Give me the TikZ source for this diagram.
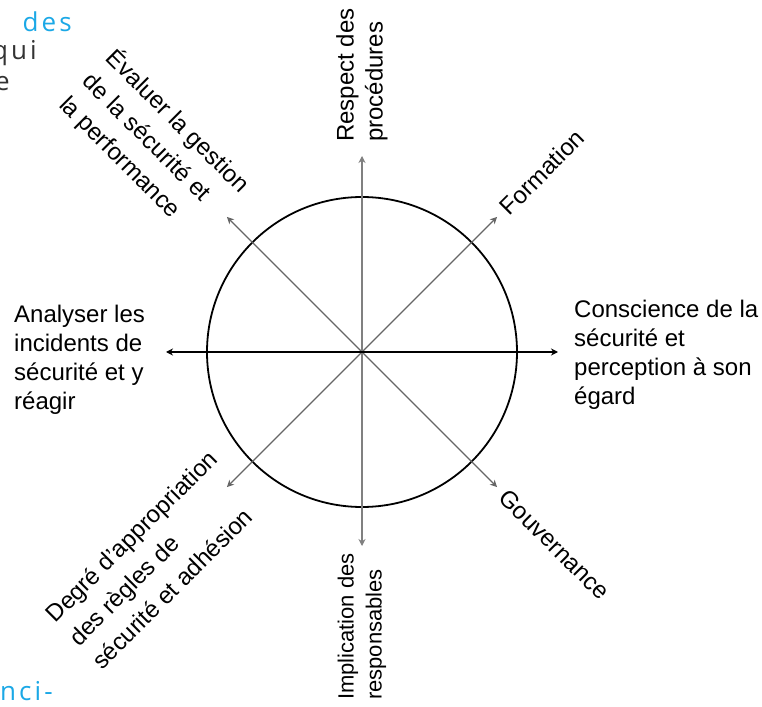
\documentclass[tikz,border=0pt]{standalone}
\usepackage{fontspec}
\setmainfont{Liberation Sans}
\newfontfamily\pagefont[LetterSpace=12]{Open Sans}
\usepackage{tikz}
\usetikzlibrary{arrows.meta}
\definecolor{pageblue}{RGB}{27,168,230}

\begin{document}
\begin{tikzpicture}[x=1pt,y=1pt,
  lab/.style={inner sep=0pt,font=\fontsize{24}{29}\selectfont,align=left},
  slant/.style={lab,font=\fontsize{24}{33}\selectfont},
  frag/.style={inner sep=0pt,font=\pagefont\fontsize{26}{30}\selectfont},
  tip/.style={-{Stealth[length=7pt,width=7pt]}}]
  \useasboundingbox (-362,-354) rectangle (400,352);
  \coordinate (O) at (0,0);
  \coordinate (N) at (0,196);
  \coordinate (S) at (0,-194);
  \coordinate (E) at (196,0);
  \coordinate (W) at (-196,0);
  % circle and axes
  \draw[line width=1.8pt] (O) circle[radius=155];
  \foreach \a in {45,135,225,315}
    \draw[tip,black!60,line width=1.4pt] (O) -- (\a:191);
  \draw[{Stealth[length=7pt,width=7pt]}-{Stealth[length=7pt,width=7pt]},black!50,line width=2.6pt] (S) -- (N);
  \draw[{Stealth[length=7pt,width=7pt]}-{Stealth[length=7pt,width=7pt]},line width=2.6pt] (W) -- (E);
  % labels
  \node[lab,anchor=north west] (aware) at (212,52) {Conscience de la\\sécurité et\\perception à son\\égard};
  \node[lab,anchor=north west] (incid) at (-348,47) {Analyser les\\incidents de\\sécurité et y\\réagir};
  \node[lab,rotate=90,anchor=west] (rules) at (0,210) {Respect des\\procédures};
  \node[lab,font=\fontsize{22}{28}\selectfont,rotate=90,anchor=east] (lead) at (0,-201) {Implication des\\responsables};
  \node[slant,rotate=45,anchor=west] (train) at (45:200) {Formation};
  \node[slant,rotate=-45,anchor=west] (gov) at (-45:200) {Gouvernance};
  \node[slant,rotate=-45,anchor=west] (eval) at (135:389) {Évaluer la gestion\\de la sécurité et\\la performance};
  \node[slant,rotate=45,anchor=west] (adopt) at (225:409) {Degré d'appropriation\\des règles de\\sécurité et adhésion};
  % bits of the page around
  \node[frag,text=pageblue,anchor=base east] (fragA) at (-290,320) {des};
  \node[frag,text=black!80,anchor=base east] (fragB) at (-325,292) {qui};
  \node[frag,text=black!80,anchor=base east] (fragC) at (-352,261) {e};
  \node[frag,text=pageblue,anchor=base east] (fragD) at (-309,-348) {nci-};
\end{tikzpicture}
\end{document}
